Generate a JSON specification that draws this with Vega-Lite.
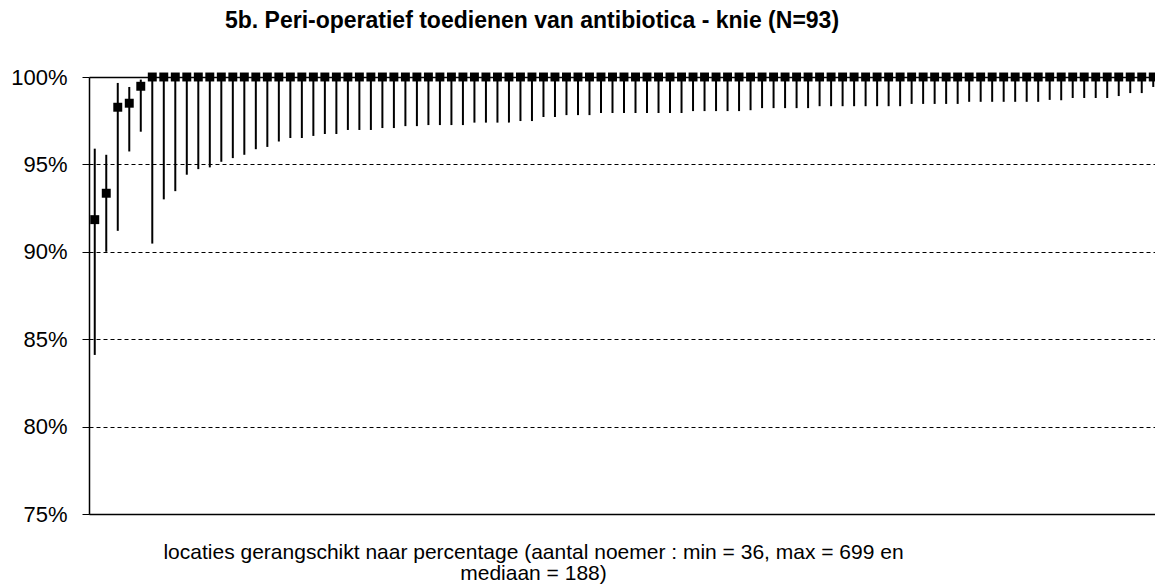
{
  "$schema": "https://vega.github.io/schema/vega-lite/v6.json",
  "width": 1066,
  "height": 437,
  "autosize": "none",
  "padding": {"left": 89, "top": 77, "right": 0, "bottom": 73},
  "background": "white",
  "config": {"view": {"stroke": null}, "font": "Liberation Sans"},
  "title": {
    "text": "5b. Peri-operatief  toedienen van antibiotica - knie (N=93)",
    "font": "Liberation Sans",
    "fontSize": 23,
    "fontWeight": "bold",
    "color": "black",
    "anchor": "middle",
    "frame": "group",
    "dx": -90,
    "baseline": "alphabetic",
    "offset": 15
  },
  "data": {
    "values": [
      {"rank": 1, "pct": 91.84, "lo": 84.1, "hi": 95.9},
      {"rank": 2, "pct": 93.35, "lo": 90.0, "hi": 95.55},
      {"rank": 3, "pct": 98.27, "lo": 91.2, "hi": 99.66},
      {"rank": 4, "pct": 98.5, "lo": 95.74, "hi": 99.43},
      {"rank": 5, "pct": 99.47, "lo": 96.87, "hi": 99.85},
      {"rank": 6, "pct": 100, "lo": 90.47, "hi": 100},
      {"rank": 7, "pct": 100, "lo": 93.0, "hi": 100},
      {"rank": 8, "pct": 100, "lo": 93.47, "hi": 100},
      {"rank": 9, "pct": 100, "lo": 94.41, "hi": 100},
      {"rank": 10, "pct": 100, "lo": 94.73, "hi": 100},
      {"rank": 11, "pct": 100, "lo": 94.83, "hi": 100},
      {"rank": 12, "pct": 100, "lo": 95.15, "hi": 100},
      {"rank": 13, "pct": 100, "lo": 95.36, "hi": 100},
      {"rank": 14, "pct": 100, "lo": 95.55, "hi": 100},
      {"rank": 15, "pct": 100, "lo": 95.87, "hi": 100},
      {"rank": 16, "pct": 100, "lo": 96.0, "hi": 100},
      {"rank": 17, "pct": 100, "lo": 96.31, "hi": 100},
      {"rank": 18, "pct": 100, "lo": 96.51, "hi": 100},
      {"rank": 19, "pct": 100, "lo": 96.51, "hi": 100},
      {"rank": 20, "pct": 100, "lo": 96.63, "hi": 100},
      {"rank": 21, "pct": 100, "lo": 96.74, "hi": 100},
      {"rank": 22, "pct": 100, "lo": 96.74, "hi": 100},
      {"rank": 23, "pct": 100, "lo": 96.97, "hi": 100},
      {"rank": 24, "pct": 100, "lo": 96.97, "hi": 100},
      {"rank": 25, "pct": 100, "lo": 96.97, "hi": 100},
      {"rank": 26, "pct": 100, "lo": 97.08, "hi": 100},
      {"rank": 27, "pct": 100, "lo": 97.08, "hi": 100},
      {"rank": 28, "pct": 100, "lo": 97.19, "hi": 100},
      {"rank": 29, "pct": 100, "lo": 97.19, "hi": 100},
      {"rank": 30, "pct": 100, "lo": 97.25, "hi": 100},
      {"rank": 31, "pct": 100, "lo": 97.25, "hi": 100},
      {"rank": 32, "pct": 100, "lo": 97.25, "hi": 100},
      {"rank": 33, "pct": 100, "lo": 97.25, "hi": 100},
      {"rank": 34, "pct": 100, "lo": 97.39, "hi": 100},
      {"rank": 35, "pct": 100, "lo": 97.39, "hi": 100},
      {"rank": 36, "pct": 100, "lo": 97.39, "hi": 100},
      {"rank": 37, "pct": 100, "lo": 97.39, "hi": 100},
      {"rank": 38, "pct": 100, "lo": 97.48, "hi": 100},
      {"rank": 39, "pct": 100, "lo": 97.48, "hi": 100},
      {"rank": 40, "pct": 100, "lo": 97.71, "hi": 100},
      {"rank": 41, "pct": 100, "lo": 97.71, "hi": 100},
      {"rank": 42, "pct": 100, "lo": 97.82, "hi": 100},
      {"rank": 43, "pct": 100, "lo": 97.82, "hi": 100},
      {"rank": 44, "pct": 100, "lo": 97.82, "hi": 100},
      {"rank": 45, "pct": 100, "lo": 97.94, "hi": 100},
      {"rank": 46, "pct": 100, "lo": 97.94, "hi": 100},
      {"rank": 47, "pct": 100, "lo": 97.94, "hi": 100},
      {"rank": 48, "pct": 100, "lo": 97.94, "hi": 100},
      {"rank": 49, "pct": 100, "lo": 97.94, "hi": 100},
      {"rank": 50, "pct": 100, "lo": 97.94, "hi": 100},
      {"rank": 51, "pct": 100, "lo": 97.94, "hi": 100},
      {"rank": 52, "pct": 100, "lo": 97.94, "hi": 100},
      {"rank": 53, "pct": 100, "lo": 98.05, "hi": 100},
      {"rank": 54, "pct": 100, "lo": 98.05, "hi": 100},
      {"rank": 55, "pct": 100, "lo": 98.05, "hi": 100},
      {"rank": 56, "pct": 100, "lo": 98.05, "hi": 100},
      {"rank": 57, "pct": 100, "lo": 98.05, "hi": 100},
      {"rank": 58, "pct": 100, "lo": 98.1, "hi": 100},
      {"rank": 59, "pct": 100, "lo": 98.22, "hi": 100},
      {"rank": 60, "pct": 100, "lo": 98.22, "hi": 100},
      {"rank": 61, "pct": 100, "lo": 98.22, "hi": 100},
      {"rank": 62, "pct": 100, "lo": 98.22, "hi": 100},
      {"rank": 63, "pct": 100, "lo": 98.22, "hi": 100},
      {"rank": 64, "pct": 100, "lo": 98.33, "hi": 100},
      {"rank": 65, "pct": 100, "lo": 98.33, "hi": 100},
      {"rank": 66, "pct": 100, "lo": 98.33, "hi": 100},
      {"rank": 67, "pct": 100, "lo": 98.33, "hi": 100},
      {"rank": 68, "pct": 100, "lo": 98.33, "hi": 100},
      {"rank": 69, "pct": 100, "lo": 98.33, "hi": 100},
      {"rank": 70, "pct": 100, "lo": 98.33, "hi": 100},
      {"rank": 71, "pct": 100, "lo": 98.33, "hi": 100},
      {"rank": 72, "pct": 100, "lo": 98.46, "hi": 100},
      {"rank": 73, "pct": 100, "lo": 98.46, "hi": 100},
      {"rank": 74, "pct": 100, "lo": 98.46, "hi": 100},
      {"rank": 75, "pct": 100, "lo": 98.46, "hi": 100},
      {"rank": 76, "pct": 100, "lo": 98.46, "hi": 100},
      {"rank": 77, "pct": 100, "lo": 98.58, "hi": 100},
      {"rank": 78, "pct": 100, "lo": 98.58, "hi": 100},
      {"rank": 79, "pct": 100, "lo": 98.58, "hi": 100},
      {"rank": 80, "pct": 100, "lo": 98.58, "hi": 100},
      {"rank": 81, "pct": 100, "lo": 98.58, "hi": 100},
      {"rank": 82, "pct": 100, "lo": 98.58, "hi": 100},
      {"rank": 83, "pct": 100, "lo": 98.58, "hi": 100},
      {"rank": 84, "pct": 100, "lo": 98.69, "hi": 100},
      {"rank": 85, "pct": 100, "lo": 98.67, "hi": 100},
      {"rank": 86, "pct": 100, "lo": 98.8, "hi": 100},
      {"rank": 87, "pct": 100, "lo": 98.8, "hi": 100},
      {"rank": 88, "pct": 100, "lo": 98.8, "hi": 100},
      {"rank": 89, "pct": 100, "lo": 98.8, "hi": 100},
      {"rank": 90, "pct": 100, "lo": 98.91, "hi": 100},
      {"rank": 91, "pct": 100, "lo": 99.08, "hi": 100},
      {"rank": 92, "pct": 100, "lo": 99.08, "hi": 100},
      {"rank": 93, "pct": 100, "lo": 99.43, "hi": 100}
    ]
  },
  "encoding": {
    "x": {
      "field": "rank",
      "type": "ordinal",
      "scale": {"type": "point", "padding": 0.5, "range": [0, 1070]},
      "axis": {
        "labels": false,
        "ticks": false,
        "grid": false,
        "domain": true,
        "domainColor": "black",
        "domainWidth": 1.5,
        "title": ["locaties gerangschikt naar percentage (aantal noemer :  min = 36, max = 699 en", "mediaan = 188)"],
        "titleFont": "Liberation Sans",
        "titleFontSize": 21,
        "titleFontWeight": "normal",
        "titleColor": "black",
        "titleAlign": "center",
        "titleAnchor": "middle",
        "titleBaseline": "alphabetic",
        "titleX": 444,
        "titleY": 44,
        "titleLineHeight": 21
      }
    }
  },
  "layer": [
    {
      "mark": {"type": "rule", "color": "black", "strokeWidth": 2},
      "encoding": {
        "y": {
          "field": "lo",
          "type": "quantitative",
          "scale": {"domain": [75, 100], "nice": false, "zero": false},
          "axis": {
            "values": [75, 80, 85, 90, 95, 100],
            "labelExpr": "datum.value + '%'",
            "labelFont": "Liberation Sans",
            "labelFontSize": 22,
            "labelColor": "black",
            "labelPadding": 15,
            "tickSize": 7,
            "tickColor": "black",
            "tickWidth": 1,
            "domainColor": "black",
            "domainWidth": 1.5,
            "grid": true,
            "gridColor": "black",
            "gridOpacity": 1,
            "gridWidth": {"condition": {"test": "datum.value === 100", "value": 1.5}, "value": 1},
            "gridDash": {"condition": {"test": "datum.value === 100", "value": []}, "value": [4, 3]},
            "title": null
          }
        },
        "y2": {"field": "hi"}
      }
    },
    {
      "mark": {"type": "point", "shape": "square", "filled": true, "size": 80, "color": "black", "opacity": 1},
      "encoding": {
        "y": {"field": "pct", "type": "quantitative"}
      }
    }
  ]
}
